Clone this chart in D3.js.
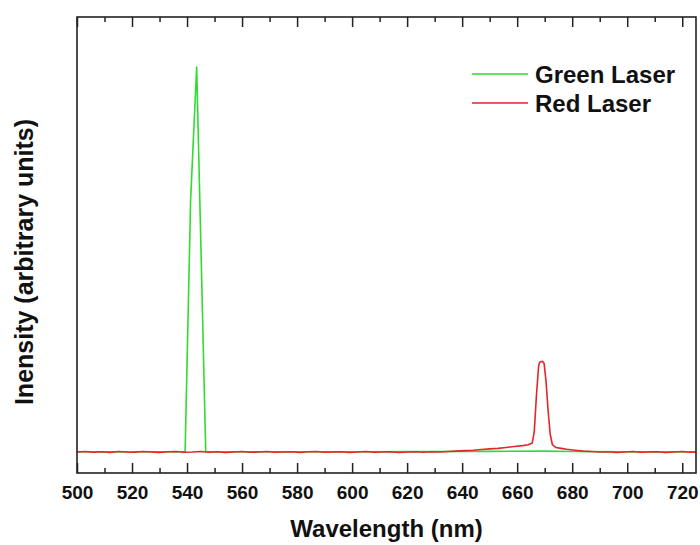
<!DOCTYPE html>
<html><head><meta charset="utf-8">
<script src="https://cdn.jsdelivr.net/npm/d3@7"></script>
<style>html,body{margin:0;padding:0;background:#fff;}svg{display:block;}</style>
</head><body>
<svg id="chart" width="700" height="545"></svg>
<script>
// ---- data ----
const seriesNames = ["Green Laser", "Red Laser"];
const seriesColors = ["#2fdc2f", "#e3262a"];
const xTickValues = [500,520,540,560,580,600,620,640,660,680,700,720];
const xMinorTicks = [510,530,550,570,590,610,630,650,670,690,710];

const greenWavelength = [500,520,539.3,541.3,543.5,546.8,560,600,630,650,670,680,700,725];
const greenIntensity  = [46.5,46.5,46.5,599,890,46.5,46.5,46.5,47,47.5,48,47,46.5,46.5];

const redWavelength = [500,503,506,509,512,515,518,521,524,527,530,533,536,539,542,545,548,551,554,557,
  560,563,566,569,572,575,578,581,584,587,590,593,596,599,602,605,608,611,614,617,620,623,626,629,632,
  635,638,641,644,647,650,653,656,659,662,664,665.5,666.2,667,667.8,668.2,669.2,669.8,670.5,671.2,672,672.8,
  674,676,678,681,684,687,690,693,696,699,702,705,708,711,714,717,720,723,725];
const redIntensity = [46,47,45.5,46.5,45,47,46,45.5,47,46,45,46.5,47,45.5,46,47,45.5,46.5,45,46,
  47,45.5,46,47,45.5,46,46.5,45,46.5,47,45.5,46,46.5,45,46,47,45.5,46,46.5,45,46,46.5,45.5,46.5,46,
  47,48,49,50,51.5,53,54,56,58,60,62,66,90,170,235,243,245,240,200,140,85,62,
  56,54,52,50,48,47,46,46.5,45,46,47,45.5,46,46.5,45,46,47,45.5,46];

// ---- layout ----
const L = 77, R = 696, T = 17, B = 473;
const svg = d3.select("#chart");
const x = d3.scaleLinear().domain([500, 725]).range([L, R]);
const y = d3.scaleLinear().domain([0, 1000]).range([B, T]);
const font = "'Liberation Sans', Arial, Helvetica, sans-serif";

// axes
const gB = svg.append("g").attr("transform", `translate(0,${B})`)
  .call(d3.axisBottom(x).tickValues(xTickValues).tickSize(-10).tickPadding(13).tickFormat(d3.format("d")));
gB.selectAll("text").attr("font-family", font).attr("font-size", 19).attr("font-weight", "bold").attr("fill", "#111");
const gBm = svg.append("g").attr("transform", `translate(0,${B})`)
  .call(d3.axisBottom(x).tickValues(xMinorTicks).tickSize(-5).tickFormat(""));
const gT = svg.append("g").attr("transform", `translate(0,${T})`)
  .call(d3.axisTop(x).tickValues(xTickValues).tickSize(-10).tickFormat(""));
const gTm = svg.append("g").attr("transform", `translate(0,${T})`)
  .call(d3.axisTop(x).tickValues(xMinorTicks).tickSize(-5).tickFormat(""));
[gB, gBm, gT, gTm].forEach(g => {
  g.select(".domain").remove();
  g.selectAll("line").attr("stroke", "#222").attr("stroke-width", 1.5);
});

// series
const line = d3.line().x(d => x(d[0])).y(d => y(d[1]));
const greenData = greenWavelength.map((w, i) => [w, greenIntensity[i]]);
const redData = redWavelength.map((w, i) => [w, redIntensity[i]]);
svg.append("path").datum(greenData).attr("d", line).attr("fill", "none")
  .attr("stroke", seriesColors[0]).attr("stroke-width", 1.6).attr("stroke-linejoin", "round");
svg.append("path").datum(redData).attr("d", line).attr("fill", "none")
  .attr("stroke", seriesColors[1]).attr("stroke-width", 1.6).attr("stroke-linejoin", "round");

// frame
svg.append("rect").attr("x", L).attr("y", T).attr("width", R - L).attr("height", B - T)
  .attr("fill", "none").attr("stroke", "#222").attr("stroke-width", 1.6);

// titles
svg.append("text").attr("x", (L + R) / 2).attr("y", 537).attr("text-anchor", "middle")
  .attr("font-family", font).attr("font-size", 24).attr("font-weight", "bold").attr("fill", "#111")
  .text("Wavelength (nm)");
svg.append("text").attr("transform", `translate(33,262) rotate(-90)`).attr("text-anchor", "middle")
  .attr("font-family", font).attr("font-size", 25).attr("font-weight", "bold").attr("fill", "#111")
  .text("Inensity (arbitrary units)");

// legend
const legY = [74, 103];
seriesNames.forEach((name, i) => {
  svg.append("line").attr("x1", 472).attr("x2", 528).attr("y1", legY[i]).attr("y2", legY[i])
    .attr("stroke", seriesColors[i]).attr("stroke-width", 1.6);
  svg.append("text").attr("x", 535).attr("y", legY[i] + 9)
    .attr("font-family", font).attr("font-size", 24).attr("font-weight", "bold").attr("fill", "#111")
    .text(name);
});
</script>
</body></html>
